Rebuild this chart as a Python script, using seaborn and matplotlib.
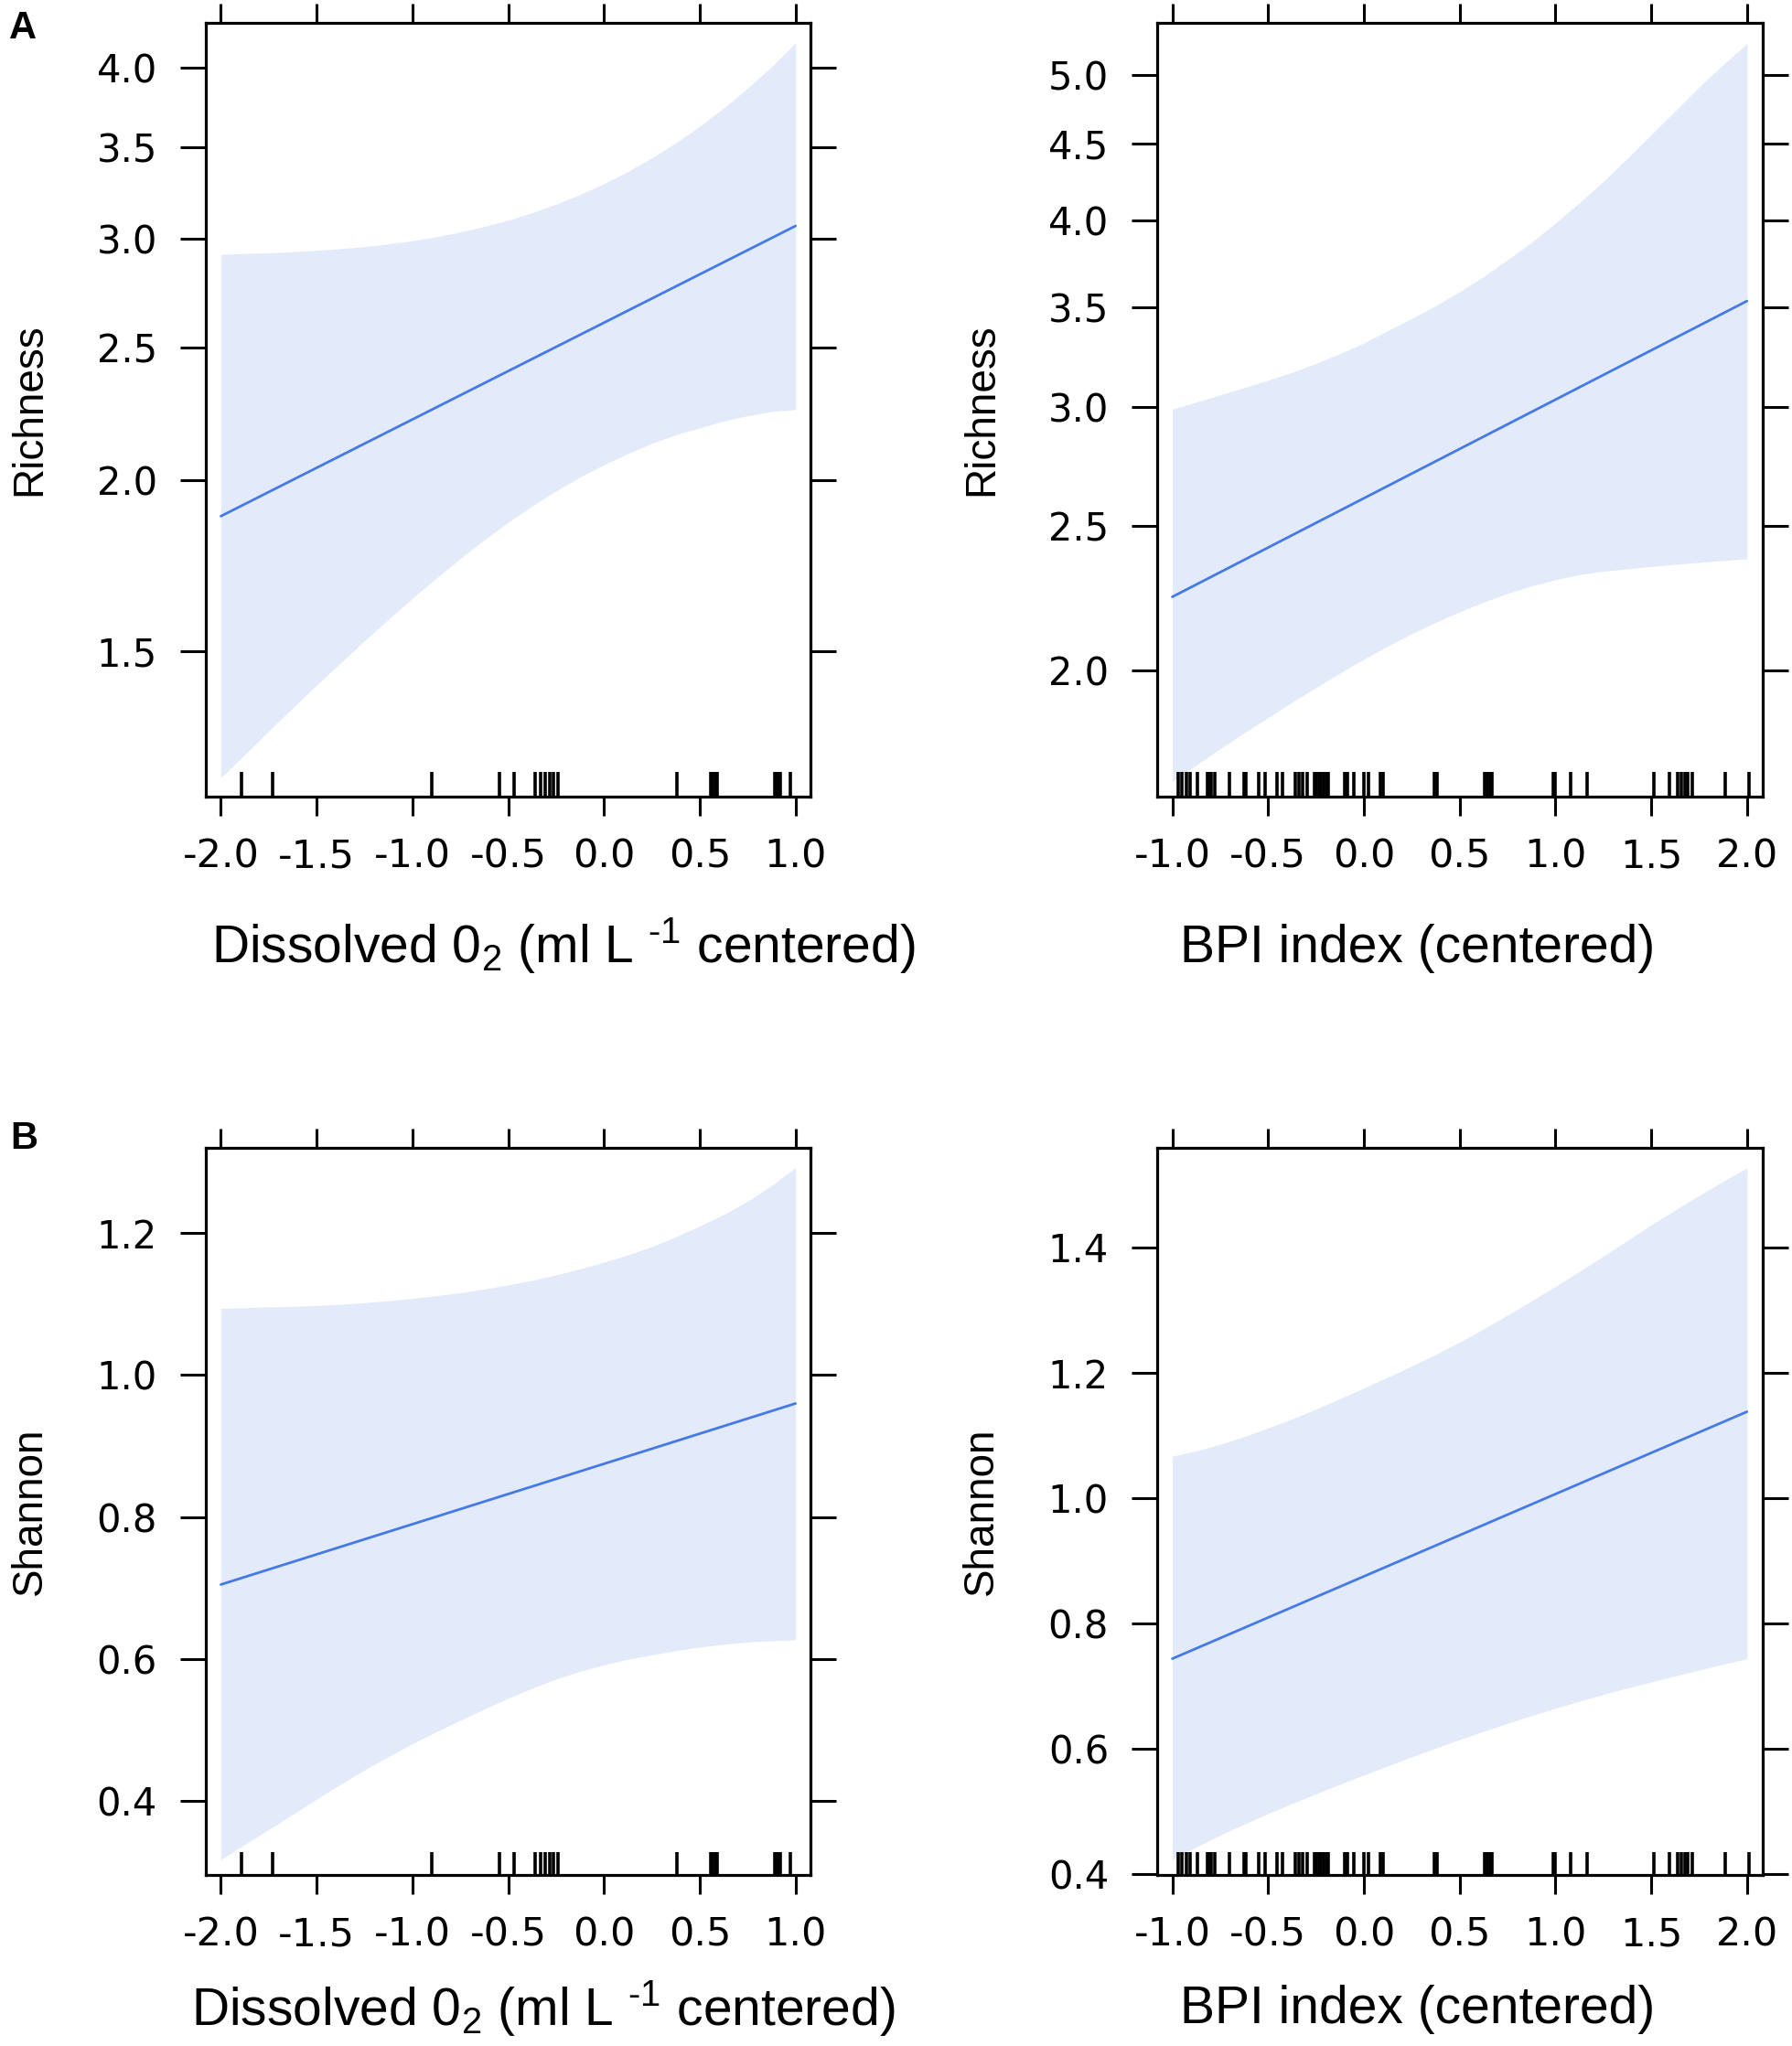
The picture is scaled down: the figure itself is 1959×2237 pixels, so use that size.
import numpy as np
import pandas as pd
import matplotlib
matplotlib.use("Agg")
import matplotlib.pyplot as plt
from matplotlib.ticker import NullLocator
import seaborn as sns

sns.set_theme(style="white")
plt.rcParams['font.family'] = ['DejaVu Sans']
plt.rcParams['text.color'] = 'black'
plt.rcParams['axes.unicode_minus'] = False
plt.rcParams['mathtext.fontset'] = 'custom'
plt.rcParams['mathtext.rm'] = 'Liberation Sans'
plt.rcParams['mathtext.it'] = 'Liberation Sans'

# values (predictor on x, response on y)
o2_x = [-2.0, -1.875, -1.75, -1.625, -1.5, -1.375, -1.25, -1.125, -1.0, -0.875, -0.75, -0.625,
        -0.5, -0.375, -0.25, -0.125, 0.0, 0.125, 0.25, 0.375, 0.5, 0.625, 0.75, 0.875, 1.0]
bpi_x = [-1.0, -0.875, -0.75, -0.625, -0.5, -0.375, -0.25, -0.125, 0.0, 0.125, 0.25, 0.375,
         0.5, 0.625, 0.75, 0.875, 1.0, 1.125, 1.25, 1.375, 1.5, 1.625, 1.75, 1.875, 2.0]

o2_fit_x = [-2.0, 1.0]
bpi_fit_x = [-1.0, 2.0]

# richness vs dissolved O2
rich_o2_fit = [1.883, 3.065]
rich_o2_hi = [2.922, 2.926, 2.930, 2.935, 2.942, 2.950, 2.961, 2.974, 2.990, 3.010, 3.034, 3.062,
              3.095, 3.134, 3.179, 3.231, 3.290, 3.358, 3.436, 3.523, 3.623, 3.735, 3.862, 4.005, 4.167]
rich_o2_lo = [1.214, 1.262, 1.313, 1.365, 1.418, 1.472, 1.528, 1.584, 1.641, 1.697, 1.754, 1.810,
              1.864, 1.916, 1.965, 2.011, 2.053, 2.092, 2.128, 2.159, 2.184, 2.209, 2.229, 2.245, 2.252]

# richness vs BPI
rich_bpi_fit = [2.240, 3.532]
rich_bpi_hi = [2.990, 3.023, 3.057, 3.091, 3.127, 3.165, 3.209, 3.257, 3.311, 3.375, 3.438, 3.507,
               3.583, 3.668, 3.764, 3.866, 3.982, 4.109, 4.246, 4.399, 4.563, 4.733, 4.911, 5.081, 5.250]
rich_bpi_lo = [1.686, 1.729, 1.773, 1.817, 1.860, 1.905, 1.948, 1.992, 2.035, 2.077, 2.117, 2.154,
               2.189, 2.222, 2.252, 2.278, 2.300, 2.318, 2.330, 2.339, 2.347, 2.355, 2.362, 2.369, 2.375]

# shannon vs dissolved O2
shan_o2_fit = [0.705, 0.960]
shan_o2_hi = [1.094, 1.0948, 1.096, 1.0968, 1.098, 1.0997, 1.102, 1.1047, 1.108, 1.1117, 1.116, 1.1211,
              1.127, 1.1336, 1.141, 1.1495, 1.159, 1.1691, 1.181, 1.1947, 1.210, 1.226, 1.245, 1.267, 1.292]
shan_o2_lo = [0.318, 0.339, 0.360, 0.3815, 0.403, 0.4237, 0.444, 0.4628, 0.481, 0.4978, 0.514, 0.5297,
              0.545, 0.559, 0.572, 0.5828, 0.592, 0.5997, 0.606, 0.6119, 0.617, 0.621, 0.624, 0.626, 0.627]

# shannon vs BPI
shan_bpi_fit = [0.744, 1.138]
shan_bpi_hi = [1.067, 1.0756, 1.086, 1.0984, 1.112, 1.1265, 1.142, 1.1588, 1.176, 1.1931, 1.211, 1.2294,
               1.249, 1.2701, 1.292, 1.3147, 1.338, 1.3617, 1.386, 1.411, 1.436, 1.4599, 1.483, 1.5054, 1.527]
shan_bpi_lo = [0.424, 0.4439, 0.4625, 0.4802, 0.497, 0.5131, 0.5285, 0.5437, 0.5585, 0.5731, 0.5875, 0.6014,
               0.615, 0.6282, 0.641, 0.6532, 0.665, 0.6762, 0.687, 0.6972, 0.707, 0.7166, 0.726, 0.7351, 0.744]

# observed predictor values (rug)
o2_rug = [-1.89, -1.73, -0.90, -0.545, -0.47, -0.357, -0.33, -0.306, -0.285, -0.262, -0.24,
          0.381, 0.556, 0.568, 0.58, 0.59, 0.89, 0.90, 0.912, 0.92, 0.974]
bpi_rug = [-0.97, -0.95, -0.925, -0.905, -0.867, -0.816, -0.806, -0.795, -0.78, -0.702, -0.625,
           -0.614, -0.547, -0.515, -0.454, -0.425, -0.357, -0.34, -0.318, -0.298, -0.26, -0.25,
           -0.235, -0.222, -0.21, -0.196, -0.188, -0.102, -0.087, -0.054, 0.0, 0.024, 0.084, 0.1,
           0.37, 0.38, 0.63, 0.645, 0.658, 0.67, 0.988, 1.0, 1.08, 1.164, 1.515, 1.595, 1.64,
           1.657, 1.675, 1.69, 1.715, 1.887, 2.01]

o2_ticks = [-2.0, -1.5, -1.0, -0.5, 0.0, 0.5, 1.0]
bpi_ticks = [-1.0, -0.5, 0.0, 0.5, 1.0, 1.5, 2.0]
rich_o2_yticks = [1.5, 2.0, 2.5, 3.0, 3.5, 4.0]
rich_bpi_yticks = [2.0, 2.5, 3.0, 3.5, 4.0, 4.5, 5.0]
shan_o2_yticks = [0.4, 0.6, 0.8, 1.0, 1.2]
shan_bpi_yticks = [0.4, 0.6, 0.8, 1.0, 1.2, 1.4]

o2_label = r'Dissolved 0$_2$ (ml L $^{\text{-}1}$ centered)'
bpi_label = 'BPI index (centered)'

line_col = '#4479e8'
band_col = '#e3eafa'


def effect_panel(ax, xs, lo, hi, fit_x, fit_y, rug, xticks, yticks, xlim, ylim, log=False):
    if log:
        ax.set_yscale('log')
    ax.fill_between(xs, lo, hi, color=band_col, lw=0)
    sns.lineplot(x=fit_x, y=fit_y, ax=ax, color=line_col, lw=2.0)
    sns.rugplot(x=rug, ax=ax, height=0.032, color='black', linewidth=2.6, expand_margins=False)
    ax.set_xlim(*xlim)
    ax.set_ylim(*ylim)
    ax.set_xticks(xticks)
    ax.set_xticklabels(['%.1f' % t for t in xticks])
    ax.set_yticks(yticks)
    ax.set_yticklabels(['%.1f' % t for t in yticks])
    ax.yaxis.set_minor_locator(NullLocator())
    ax.xaxis.set_minor_locator(NullLocator())
    ax.tick_params(axis='x', direction='out', length=15, width=2.2, pad=17,
                   top=True, bottom=True, labelsize=31, colors='black')
    ax.tick_params(axis='y', direction='out', length=20, width=2.2, pad=18,
                   left=True, right=True, labelsize=30, colors='black')
    for sp in ax.spines.values():
        sp.set_linewidth(2.3)
        sp.set_color('black')
    ax.set_xlabel('')
    ax.set_ylabel('')


fig = plt.figure(figsize=(19.59, 22.37), dpi=100)
W, H = 1959.0, 2237.0
lx, rx, aw = 224.7 / W, 1264.8 / W, 661.7 / W
ax1 = fig.add_axes([lx, 1 - 871 / H, aw, 846 / H])
ax2 = fig.add_axes([rx, 1 - 871 / H, aw, 846 / H])
ax3 = fig.add_axes([lx, 1 - 2050 / H, aw, 795 / H])
ax4 = fig.add_axes([rx, 1 - 2050 / H, aw, 795 / H])

effect_panel(ax1, o2_x, rich_o2_lo, rich_o2_hi, o2_fit_x, rich_o2_fit, o2_rug,
             o2_ticks, rich_o2_yticks, (-2.08, 1.08), (1.176, 4.31), log=True)
effect_panel(ax2, bpi_x, rich_bpi_lo, rich_bpi_hi, bpi_fit_x, rich_bpi_fit, bpi_rug,
             bpi_ticks, rich_bpi_yticks, (-1.08, 2.08), (1.647, 5.42), log=True)
effect_panel(ax3, o2_x, shan_o2_lo, shan_o2_hi, o2_fit_x, shan_o2_fit, o2_rug,
             o2_ticks, shan_o2_yticks, (-2.08, 1.08), (0.296, 1.320))
effect_panel(ax4, bpi_x, shan_bpi_lo, shan_bpi_hi, bpi_fit_x, shan_bpi_fit, bpi_rug,
             bpi_ticks, shan_bpi_yticks, (-1.08, 2.08), (0.399, 1.559))

ylab_font = dict(family=['Liberation Sans'], size=33)
for ax, lab in [(ax1, 'Richness'), (ax2, 'Richness'), (ax3, 'Shannon'), (ax4, 'Shannon')]:
    ax.text(-0.272, 0.5, lab, transform=ax.transAxes, rotation=90, rotation_mode='anchor',
            ha='center', va='baseline', **ylab_font)

xlab_font = dict(family=['Liberation Sans'], size=41)
ax1.text(0.591, -0.2136, o2_label, transform=ax1.transAxes, ha='center', va='baseline', **xlab_font)
ax2.text(0.431, -0.2136, bpi_label, transform=ax2.transAxes, ha='center', va='baseline', **xlab_font)
ax3.text(0.558, -0.206, o2_label, transform=ax3.transAxes, ha='center', va='baseline', **xlab_font)
ax4.text(0.431, -0.204, bpi_label, transform=ax4.transAxes, ha='center', va='baseline', **xlab_font)

fig.text(10 / W, 1 - 42 / H, 'A', ha='left', va='baseline', family='Liberation Sans',
         weight='bold', size=30, color='black')
fig.text(11 / W, 1 - 1256 / H, 'B', ha='left', va='baseline', family='Liberation Sans',
         weight='bold', size=30, color='black')

fig.savefig('out.png', dpi=100, facecolor='white')
